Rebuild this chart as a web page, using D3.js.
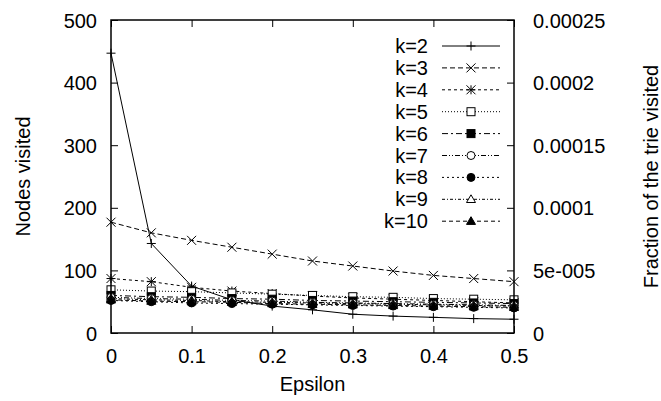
<!DOCTYPE html>
<html>
<head>
<meta charset="utf-8">
<script src="https://cdn.jsdelivr.net/npm/d3@7"></script>
<style>
  body { margin: 0; background: #fff; }
  svg { font-family: "Liberation Sans", Arial, sans-serif; }
</style>
</head>
<body>
<svg id="chart" width="661" height="401"></svg>
<script>
// data
var epsilon = [0, 0.05, 0.1, 0.15, 0.2, 0.25, 0.3, 0.35, 0.4, 0.45, 0.5];
var k2 = [447, 143, 75, 53, 43, 37, 30, 27, 25, 23, 22];
var k3 = [177, 160, 148, 137, 126, 115, 107, 99, 92, 87, 82];
var k4 = [87, 82, 73, 67, 63, 59, 56, 54, 52, 50, 48];
var k5 = [69, 67, 66, 64, 62, 60, 58, 57, 55, 54, 53];
var k6 = [60, 58, 57, 55, 54, 52, 51, 50, 49, 48, 47];
var k7 = [57, 55, 54, 52, 51, 49, 48, 47, 46, 45, 44];
var k8 = [52, 50, 48, 47, 46, 45, 44, 43, 42, 41, 40];
var k9 = [55, 53, 52, 50, 49, 48, 47, 46, 45, 44, 43];
var k10 = [53, 51, 50, 49, 47, 46, 45, 44, 43, 42, 41];
var seriesNames = ["k=2", "k=3", "k=4", "k=5", "k=6", "k=7", "k=8", "k=9", "k=10"];
var xTicks = [0, 0.1, 0.2, 0.3, 0.4, 0.5];
var yTicks = [0, 100, 200, 300, 400, 500];
var y2Ticks = [0, 0.00005, 0.0001, 0.00015, 0.0002, 0.00025];
var y2Labels = ["0", "5e-005", "0.0001", "0.00015", "0.0002", "0.00025"];

var allSeries = [k2, k3, k4, k5, k6, k7, k8, k9, k10];
var dashes = ["none", "5,3", "3,3", "1,2", "6,3,2,3", "5,2,1,2,1,2", "2,3", "3,2,1,2", "4,3"];
var markers = ["plus", "cross", "star", "square", "squareF", "circle", "circleF", "tri", "triF"];

var fs = "20px";
var svg = d3.select("#chart");
var margin = { top: 20, right: 147, bottom: 68, left: 111 };
var width = 661 - margin.left - margin.right,
  height = 401 - margin.top - margin.bottom;

var x = d3.scaleLinear().domain([0, 0.5]).range([0, width]);
var y = d3.scaleLinear().domain([0, 500]).range([height, 0]);
var y2 = d3.scaleLinear().domain([0, 0.00025]).range([height, 0]);

var g = svg.append("g").attr("transform", "translate(" + margin.left + "," + margin.top + ")");

// axes (gnuplot style: ticks point inward)
function styleAxis(sel) {
  sel.select(".domain").remove();
  sel.selectAll(".tick line").attr("stroke", "#000");
  sel.selectAll(".tick text").attr("fill", "#000").attr("dy", "0.35em").style("font-size", fs);
}
g.append("g").attr("transform", "translate(0," + height + ")")
  .call(d3.axisBottom(x).tickValues(xTicks).tickSize(-7).tickPadding(23).tickFormat(d3.format("")))
  .call(styleAxis);
g.append("g")
  .call(d3.axisTop(x).tickValues(xTicks).tickSize(-7).tickFormat(""))
  .call(styleAxis);
g.append("g")
  .call(d3.axisLeft(y).tickValues(yTicks).tickSize(-7).tickPadding(14))
  .call(styleAxis);
g.append("g").attr("transform", "translate(" + width + ",0)")
  .call(d3.axisRight(y2).tickValues(y2Ticks).tickSize(-7).tickPadding(19)
    .tickFormat(function (d, i) { return y2Labels[i]; }))
  .call(styleAxis);

var line = d3.line()
  .x(function (d, i) { return x(epsilon[i]); })
  .y(function (d) { return y(d); });

function marker(sel, type) {
  var s = 4.5;
  if (type == "plus" || type == "star") {
    sel.append("path").attr("d", "M" + -s + ",0H" + s + "M0," + -s + "V" + s)
      .attr("stroke", "#000").attr("fill", "none");
  }
  if (type == "cross" || type == "star") {
    sel.append("path").attr("d", "M" + -s + "," + -s + "L" + s + "," + s + "M" + -s + "," + s + "L" + s + "," + -s)
      .attr("stroke", "#000").attr("fill", "none");
  }
  if (type == "square" || type == "squareF") {
    sel.append("rect").attr("x", -4).attr("y", -4).attr("width", 8).attr("height", 8)
      .attr("stroke", "#000").attr("fill", type == "squareF" ? "#000" : "#fff");
  }
  if (type == "circle" || type == "circleF") {
    sel.append("circle").attr("r", 4)
      .attr("stroke", "#000").attr("fill", type == "circleF" ? "#000" : "#fff");
  }
  if (type == "tri" || type == "triF") {
    sel.append("path").attr("d", "M0,-4.5L4.5,3.2L-4.5,3.2Z")
      .attr("stroke", "#000").attr("fill", type == "triF" ? "#000" : "#fff");
  }
}

// draw series
allSeries.forEach(function (vals, si) {
  g.append("path")
    .datum(vals)
    .attr("d", line)
    .attr("fill", "none")
    .attr("stroke", "#000")
    .attr("stroke-width", 1)
    .attr("stroke-dasharray", dashes[si]);
  g.append("g").selectAll("g")
    .data(vals)
    .enter()
    .append("g")
    .attr("transform", function (d, i) { return "translate(" + x(epsilon[i]) + "," + y(d) + ")"; })
    .each(function () { marker(d3.select(this), markers[si]); });
});

// frame
g.append("rect").attr("width", width).attr("height", height)
  .attr("fill", "none").attr("stroke", "#000").attr("stroke-width", 1.5);

// legend
var leg = svg.append("g");
seriesNames.forEach(function (name, i) {
  var ly = 46 + i * 21.9;
  leg.append("text").attr("x", 428).attr("y", ly).attr("dy", "0.35em")
    .attr("text-anchor", "end").style("font-size", fs).text(name);
  leg.append("line").attr("x1", 442).attr("x2", 500).attr("y1", ly).attr("y2", ly)
    .attr("stroke", "#000").attr("stroke-dasharray", dashes[i]);
  var m = leg.append("g").attr("transform", "translate(471," + ly + ")");
  marker(m, markers[i]);
});

// axis titles
svg.append("text").attr("transform", "translate(23," + (margin.top + height / 2) + ") rotate(-90)")
  .attr("text-anchor", "middle").attr("dy", "0.35em").style("font-size", fs).text("Nodes visited");
svg.append("text").attr("transform", "translate(651," + (margin.top + height / 2) + ") rotate(-90)")
  .attr("text-anchor", "middle").attr("dy", "0.35em").style("font-size", fs).text("Fraction of the trie visited");
svg.append("text").attr("x", margin.left + width / 2).attr("y", 384).attr("dy", "0.35em")
  .attr("text-anchor", "middle").style("font-size", fs).text("Epsilon");
</script>
</body>
</html>
